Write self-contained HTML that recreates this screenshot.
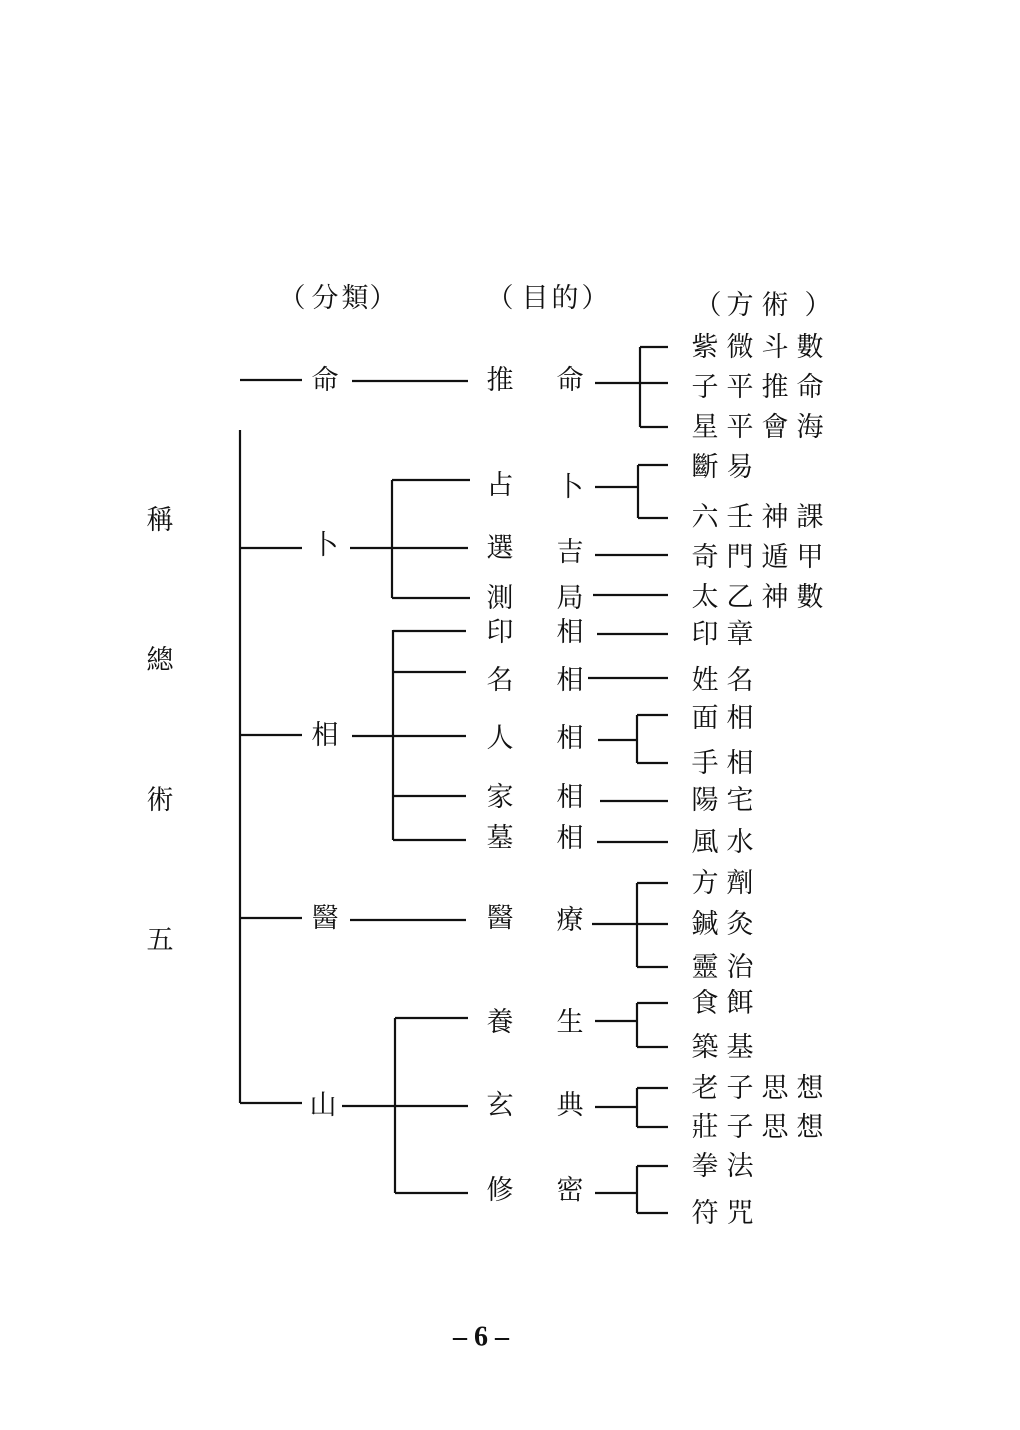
<!DOCTYPE html>
<html><head><meta charset="utf-8"><style>
html,body{margin:0;padding:0;background:#fff;}
svg{display:block}
text{font-family:"Liberation Serif","Noto Serif CJK SC","Noto Sans CJK TC",serif;font-size:27px;fill:#111;text-anchor:middle;dominant-baseline:central;}
</style></head><body>
<svg width="1020" height="1430" viewBox="0 0 1020 1430">
<g stroke="#111" stroke-width="2.2" fill="none">
<path d="M240 430V1103"/>
<path d="M240 380H302M240 548H302M240 735H302M240 918H302M240 1103H302"/>
<path d="M352 381H468"/>
<path d="M350 548H468M392 480V598M392 480H470M392 598H470"/>
<path d="M352 736H466M393 630V840M393 631H466M393 672H466M393 796H466M393 840H466"/>
<path d="M350 920H466"/>
<path d="M342 1106H468M395 1018V1193M395 1018H468M395 1193H468"/>
<path d="M595 383H668M640 347V427M640 347H668M640 427H668"/>
<path d="M595 487H638M638 465V518M638 465H668M638 518H668"/>
<path d="M595 555H668M593 595H668M597 634H668M588 678H668"/>
<path d="M598 740H637M637 715V763M637 715H668M637 763H668"/>
<path d="M600 801H668M597 842H668"/>
<path d="M592 924H668M637 883V967M637 883H668M637 967H668"/>
<path d="M595 1021H637M637 1003V1047M637 1003H668M637 1047H668"/>
<path d="M595 1107H637M637 1088V1127M637 1088H668M637 1127H668"/>
<path d="M595 1193H637M637 1166V1213M637 1166H668M637 1213H668"/>
</g>
<text x="160" y="940">五</text><text x="160" y="800">術</text><text x="160" y="660">總</text><text x="160" y="520">稱</text>
<text x="292" y="298">（</text><text x="325" y="298">分</text><text x="355" y="298">類</text><text x="383" y="298">）</text>
<text x="500" y="298">（</text><text x="535" y="298">目</text><text x="565" y="298">的</text><text x="595" y="298">）</text>
<text x="708" y="305">（</text><text x="740" y="305">方</text><text x="775" y="305">術</text><text x="818" y="305">）</text>
<text x="325" y="380">命</text><text x="325" y="545">卜</text><text x="325" y="735">相</text><text x="325" y="918">醫</text><text x="323" y="1105">山</text>
<text x="500" y="380">推</text><text x="500" y="485">占</text><text x="500" y="548">選</text><text x="500" y="598">測</text><text x="500" y="632">印</text><text x="500" y="680">名</text><text x="500" y="738">人</text><text x="500" y="797">家</text><text x="500" y="838">墓</text><text x="500" y="918">醫</text><text x="500" y="1022">養</text><text x="500" y="1105">玄</text><text x="500" y="1190">修</text>
<text x="570" y="380">命</text><text x="570" y="487">卜</text><text x="570" y="552">吉</text><text x="570" y="598">局</text><text x="570" y="632">相</text><text x="570" y="680">相</text><text x="570" y="738">相</text><text x="570" y="797">相</text><text x="570" y="838">相</text><text x="570" y="920">療</text><text x="570" y="1022">生</text><text x="570" y="1105">典</text><text x="570" y="1190">密</text>
<g>
<text x="705" y="347">紫</text><text x="740" y="347">微</text><text x="775" y="347">斗</text><text x="810" y="347">數</text>
<text x="705" y="387">子</text><text x="740" y="387">平</text><text x="775" y="387">推</text><text x="810" y="387">命</text>
<text x="705" y="427">星</text><text x="740" y="427">平</text><text x="775" y="427">會</text><text x="810" y="427">海</text>
<text x="705" y="467">斷</text><text x="740" y="467">易</text>
<text x="705" y="517">六</text><text x="740" y="517">壬</text><text x="775" y="517">神</text><text x="810" y="517">課</text>
<text x="705" y="557">奇</text><text x="740" y="557">門</text><text x="775" y="557">遁</text><text x="810" y="557">甲</text>
<text x="705" y="597">太</text><text x="740" y="597">乙</text><text x="775" y="597">神</text><text x="810" y="597">數</text>
<text x="705" y="634">印</text><text x="740" y="634">章</text>
<text x="705" y="680">姓</text><text x="740" y="680">名</text>
<text x="705" y="718">面</text><text x="740" y="718">相</text>
<text x="705" y="763">手</text><text x="740" y="763">相</text>
<text x="705" y="800">陽</text><text x="740" y="800">宅</text>
<text x="705" y="842">風</text><text x="740" y="842">水</text>
<text x="705" y="883">方</text><text x="740" y="883">劑</text>
<text x="705" y="924">鍼</text><text x="740" y="924">灸</text>
<text x="705" y="967">靈</text><text x="740" y="967">治</text>
<text x="705" y="1003">食</text><text x="740" y="1003">餌</text>
<text x="705" y="1047">築</text><text x="740" y="1047">基</text>
<text x="705" y="1088">老</text><text x="740" y="1088">子</text><text x="775" y="1088">思</text><text x="810" y="1088">想</text>
<text x="705" y="1127">莊</text><text x="740" y="1127">子</text><text x="775" y="1127">思</text><text x="810" y="1127">想</text>
<text x="705" y="1166">拳</text><text x="740" y="1166">法</text>
<text x="705" y="1213">符</text><text x="740" y="1213">咒</text>
</g>
<text x="481" y="1337" style="font-size:28px;font-weight:bold">– 6 –</text>
</svg>
</body></html>
